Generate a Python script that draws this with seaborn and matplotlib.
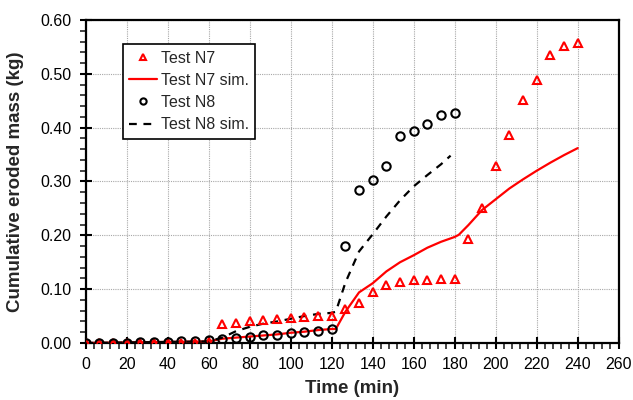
import matplotlib
matplotlib.use("Agg")
import matplotlib.pyplot as plt
from matplotlib.ticker import MultipleLocator, FormatStrFormatter
import pandas as pd
import seaborn as sns

# measured data (time in min, cumulative eroded mass in kg)
t_n7 = [0, 6.67, 13.33, 20, 26.67, 33.33, 40, 46.67, 53.33, 60,
        66.67, 73.33, 80, 86.67, 93.33, 100, 106.67, 113.33, 120,
        126.67, 133.33, 140, 146.67, 153.33, 160, 166.67, 173.33, 180,
        186.67, 193.33, 200, 206.67, 213.33, 220, 226.67, 233.33, 240]
m_n7 = [0, 0, 0, 0, 0, 0, 0, 0, 0, 0.001,
        0.035, 0.038, 0.040, 0.042, 0.045, 0.046, 0.048, 0.050, 0.051,
        0.064, 0.075, 0.094, 0.107, 0.113, 0.117, 0.117, 0.119, 0.119,
        0.193, 0.250, 0.328, 0.387, 0.452, 0.488, 0.535, 0.551, 0.557]

t_n8 = [0, 6.67, 13.33, 20, 26.67, 33.33, 40, 46.67, 53.33, 60,
        66.67, 73.33, 80, 86.67, 93.33, 100, 106.67, 113.33, 120,
        126.67, 133.33, 140, 146.67, 153.33, 160, 166.67, 173.33, 180]
m_n8 = [0, 0, 0, 0, 0.001, 0.001, 0.002, 0.003, 0.004, 0.005,
        0.007, 0.009, 0.012, 0.014, 0.015, 0.018, 0.020, 0.023, 0.026,
        0.181, 0.285, 0.303, 0.328, 0.385, 0.393, 0.406, 0.424, 0.427]

# simulations
t_n7_sim = [0, 60, 66.67, 73.33, 80, 86.67, 93.33, 100, 106.67, 113.33, 120, 122,
            126.67, 133.33, 140, 146.67, 153.33, 160, 166.67, 173.33, 180, 182,
            186.67, 193.33, 200, 206.67, 213.33, 220, 226.67, 233.33, 240]
m_n7_sim = [0, 0.003, 0.008, 0.010, 0.012, 0.014, 0.016, 0.019, 0.021, 0.024, 0.026, 0.026,
            0.058, 0.094, 0.111, 0.133, 0.150, 0.163, 0.177, 0.188, 0.197, 0.201,
            0.219, 0.247, 0.267, 0.287, 0.304, 0.320, 0.335, 0.349, 0.362]

t_n8_sim = [0, 60, 66.67, 73.33, 80, 86.67, 93.33, 100, 106.67, 113.33, 120, 122,
            126.67, 133.33, 140, 146.67, 153.33, 160, 166.67, 173.33, 178]
m_n8_sim = [0, 0.003, 0.010, 0.022, 0.030, 0.036, 0.040, 0.045, 0.050, 0.054, 0.056, 0.058,
            0.112, 0.170, 0.202, 0.235, 0.265, 0.291, 0.312, 0.332, 0.348]

sns.set_style("ticks")
plt.rcParams["font.family"] = ["Liberation Sans", "DejaVu Sans"]

fig = plt.figure(figsize=(6.33, 4.0), dpi=100)
ax = fig.add_axes([0.1354, 0.1425, 0.842, 0.8075])

n7 = pd.DataFrame({"t": t_n7, "m": m_n7})
n8 = pd.DataFrame({"t": t_n8, "m": m_n8})
n7s = pd.DataFrame({"t": t_n7_sim, "m": m_n7_sim})
n8s = pd.DataFrame({"t": t_n8_sim, "m": m_n8_sim})

sns.lineplot(data=n7s, x="t", y="m", color="#ff0000", lw=1.6,
             label="Test N7 sim.", ax=ax, zorder=3)
sns.lineplot(data=n8s, x="t", y="m", color="black", lw=1.6,
             label="Test N8 sim.", ax=ax, zorder=3)
ax.lines[-1].set_dashes((3.5, 3))
ax.plot(n7["t"], n7["m"], ls="none", marker="^", ms=6.3, mfc="none",
        mec="#ff0000", mew=1.5, label="Test N7", zorder=4)
ax.plot(n8["t"], n8["m"], ls="none", marker="o", ms=6.0, mfc="none",
        mec="black", mew=1.5, label="Test N8", zorder=4)

ax.set_xlim(0, 260)
ax.set_ylim(0, 0.6)
ax.xaxis.set_major_locator(MultipleLocator(20))
ax.xaxis.set_minor_locator(MultipleLocator(4))
ax.yaxis.set_major_locator(MultipleLocator(0.1))
ax.yaxis.set_minor_locator(MultipleLocator(0.02))
ax.yaxis.set_major_formatter(FormatStrFormatter("%.2f"))
ax.grid(True, which="major", color="#a8a8a8", ls=(0, (1, 1)), lw=0.8)
ax.tick_params(which="major", direction="inout", length=8, width=1.5,
               labelsize=11.5, colors="black", pad=6)
ax.tick_params(which="minor", direction="out", length=4, width=1.2)
for s in ax.spines.values():
    s.set_linewidth(1.6)
    s.set_color("black")

ax.set_xlabel("Time (min)", fontsize=13.5, fontweight="bold", labelpad=6)
ax.set_ylabel("Cumulative eroded mass (kg)", fontsize=13.5, fontweight="bold",
              labelpad=12)

h, l = ax.get_legend_handles_labels()
order = ["Test N7", "Test N7 sim.", "Test N8", "Test N8 sim."]
hd = dict(zip(l, h))
leg = ax.legend([hd[k] for k in order], order, loc="upper left",
                bbox_to_anchor=(0.07, 0.925), borderaxespad=0,
                fancybox=False, edgecolor="black", framealpha=1,
                fontsize=11.5, handlelength=1.7, handletextpad=0.25,
                labelspacing=0.45, borderpad=0.4, markerscale=0.75)
leg.get_frame().set_linewidth(1.2)

fig.savefig("out.png", dpi=100)
